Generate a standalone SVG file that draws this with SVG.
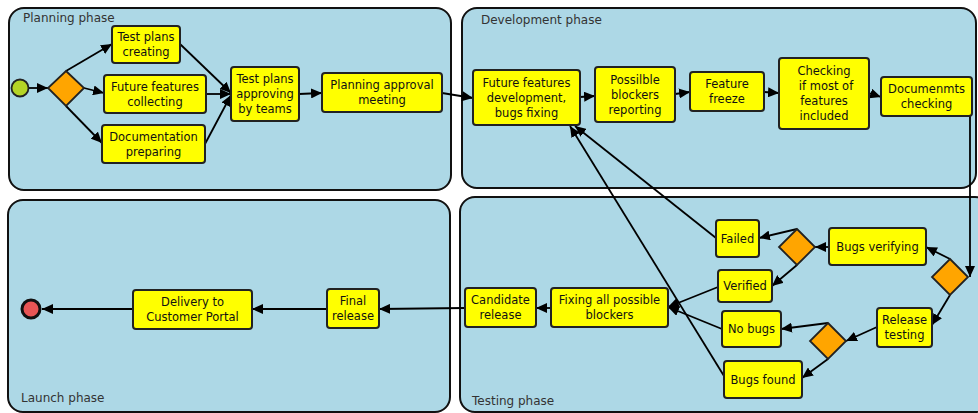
<svg xmlns="http://www.w3.org/2000/svg" width="978" height="413" viewBox="0 0 978 413">
<defs>
<marker id="ah" markerUnits="userSpaceOnUse" markerWidth="11" markerHeight="10" refX="11" refY="5" orient="auto">
<path d="M0,0 L11,5 L0,10 z" fill="#000"/>
</marker>
<style>
.lane{fill:#add8e6;stroke:#111;stroke-width:2}
.lt{font-family:"DejaVu Sans",sans-serif;font-size:12px;fill:#333}
.task{fill:#ffff00;stroke:#222;stroke-width:2}
.gw{fill:#ffa500;stroke:#222;stroke-width:1.8}
.t{font-family:"DejaVu Sans",sans-serif;font-size:11.5px;fill:#111;text-anchor:middle}
.c{fill:none;stroke:#000;stroke-width:1.8;marker-end:url(#ah)}
</style>
</defs>
<g id="lanes">
<g id="planning-phase"><rect class="lane" x="9" y="8" width="442" height="182" rx="15"/><text class="lt" x="23" y="22">Planning phase</text></g>
<g id="development-phase"><rect class="lane" x="462" y="8" width="514" height="180" rx="15"/><text class="lt" x="481" y="24">Development phase</text></g>
<g id="launch-phase"><rect class="lane" x="8" y="200" width="442" height="212" rx="15"/><text class="lt" x="21" y="402">Launch phase</text></g>
<g id="testing-phase"><rect class="lane" x="460" y="197" width="530" height="215" rx="15"/><text class="lt" x="472" y="405">Testing phase</text></g>
</g>
<g id="connectors">
<path class="c" d="M29,88 L48,88"/>
<path class="c" d="M66,71 L112,44"/>
<path class="c" d="M84,88 L104,93"/>
<path class="c" d="M66,106 L102,143"/>
<path class="c" d="M180,44 L231,93"/>
<path class="c" d="M206,94 L231,94"/>
<path class="c" d="M205,144 L231,95"/>
<path class="c" d="M299,94 L322,93"/>
<path class="c" d="M442,93 L473,98"/>
<path class="c" d="M580,97 L595,96"/>
<path class="c" d="M675,94 L690,92"/>
<path class="c" d="M764,92 L779,93"/>
<path class="c" d="M869,93 L881,97"/>
<path class="c" d="M970,116 L970,277"/>
<path class="c" d="M950,259 L926,247"/>
<path class="c" d="M950,295 L932,325"/>
<path class="c" d="M829,247 L815,247"/>
<path class="c" d="M797,229 L759,238"/>
<path class="c" d="M797,265 L772,286"/>
<path class="c" d="M877,327 L846,341"/>
<path class="c" d="M828,323 L781,329"/>
<path class="c" d="M828,359 L802,378"/>
<path class="c" d="M716,238 L575,126"/>
<path class="c" d="M724,376 L570,126"/>
<path class="c" d="M718,287 L668,307"/>
<path class="c" d="M722,329 L668,307"/>
<path class="c" d="M551,308 L536,308"/>
<path class="c" d="M465,308 L379,309"/>
<path class="c" d="M327,309 L252,309"/>
<path class="c" d="M133,309 L42,309"/>
</g>
<g id="start"><circle cx="20" cy="88" r="8.5" fill="#b5d426" stroke="#222" stroke-width="1.8"/></g>
<g id="gw-split"><path class="gw" d="M66,71 L84,88 L66,106 L48,88 z"/></g>
<g id="test-plans-creating"><rect class="task" x="112" y="26" width="68" height="37" rx="3"/><text class="t" x="146" y="41">Test plans</text><text class="t" x="146" y="56">creating</text></g>
<g id="future-features-collecting"><rect class="task" x="104" y="75" width="102" height="38" rx="3"/><text class="t" x="155" y="90.5">Future features</text><text class="t" x="155" y="105.5">collecting</text></g>
<g id="documentation-preparing"><rect class="task" x="102" y="125" width="103" height="38" rx="3"/><text class="t" x="153.5" y="140.5">Documentation</text><text class="t" x="153.5" y="155.5">preparing</text></g>
<g id="test-plans-approving"><rect class="task" x="231" y="67" width="68" height="54" rx="3"/><text class="t" x="265" y="83">Test plans</text><text class="t" x="265" y="98">approving</text><text class="t" x="265" y="113">by teams</text></g>
<g id="planning-approval-meeting"><rect class="task" x="322" y="73" width="120" height="39" rx="3"/><text class="t" x="382" y="89">Planning approval</text><text class="t" x="382" y="104">meeting</text></g>
<g id="ffd"><rect class="task" x="473" y="70" width="107" height="55" rx="3"/><text class="t" x="526.5" y="86.5">Future features</text><text class="t" x="526.5" y="101.5">development,</text><text class="t" x="526.5" y="116.5">bugs fixing</text></g>
<g id="possible-blockers"><rect class="task" x="595" y="67" width="80" height="55" rx="3"/><text class="t" x="635" y="83.5">Possilble</text><text class="t" x="635" y="98.5">blockers</text><text class="t" x="635" y="113.5">reporting</text></g>
<g id="feature-freeze"><rect class="task" x="690" y="72" width="74" height="39" rx="3"/><text class="t" x="727" y="88">Feature</text><text class="t" x="727" y="103">freeze</text></g>
<g id="checking"><rect class="task" x="779" y="58" width="90" height="71" rx="3"/><text class="t" x="824" y="75">Checking</text><text class="t" x="826" y="90">if most of</text><text class="t" x="824" y="105">features</text><text class="t" x="824" y="120">included</text></g>
<g id="documents-checking"><rect class="task" x="881" y="77" width="91" height="39" rx="3"/><text class="t" x="926.5" y="93">Documenmts</text><text class="t" x="926.5" y="108">checking</text></g>
<g id="gw-right"><path class="gw" d="M950,259 L968,277 L950,295 L932,277 z"/></g>
<g id="bugs-verifying"><rect class="task" x="829" y="228" width="97" height="37" rx="3"/><text class="t" x="877.5" y="250.5">Bugs verifying</text></g>
<g id="gw-verify"><path class="gw" d="M797,229 L815,247 L797,265 L779,247 z"/></g>
<g id="failed"><rect class="task" x="716" y="220" width="43" height="37" rx="3"/><text class="t" x="737.5" y="242.5">Failed</text></g>
<g id="verified"><rect class="task" x="718" y="270" width="54" height="32" rx="3"/><text class="t" x="745" y="290">Verified</text></g>
<g id="release-testing"><rect class="task" x="877" y="308" width="55" height="39" rx="3"/><text class="t" x="904.5" y="324">Release</text><text class="t" x="904.5" y="339">testing</text></g>
<g id="gw-test"><path class="gw" d="M828,323 L846,341 L828,359 L810,341 z"/></g>
<g id="no-bugs"><rect class="task" x="722" y="311" width="59" height="36" rx="3"/><text class="t" x="751.5" y="333">No bugs</text></g>
<g id="bugs-found"><rect class="task" x="724" y="361" width="78" height="37" rx="3"/><text class="t" x="763" y="383.5">Bugs found</text></g>
<g id="fixing-blockers"><rect class="task" x="551" y="288" width="117" height="39" rx="3"/><text class="t" x="609.5" y="304">Fixing all possible</text><text class="t" x="609.5" y="319">blockers</text></g>
<g id="candidate-release"><rect class="task" x="465" y="288" width="71" height="39" rx="3"/><text class="t" x="500.5" y="304">Candidate</text><text class="t" x="500.5" y="319">release</text></g>
<g id="final-release"><rect class="task" x="327" y="289" width="52" height="39" rx="3"/><text class="t" x="353" y="305">Final</text><text class="t" x="353" y="320">release</text></g>
<g id="delivery"><rect class="task" x="133" y="290" width="119" height="39" rx="3"/><text class="t" x="192.5" y="306">Delivery to</text><text class="t" x="192.5" y="321">Customer Portal</text></g>
<g id="end"><circle cx="31" cy="309" r="9" fill="#e85555" stroke="#111" stroke-width="3"/></g>
</svg>
